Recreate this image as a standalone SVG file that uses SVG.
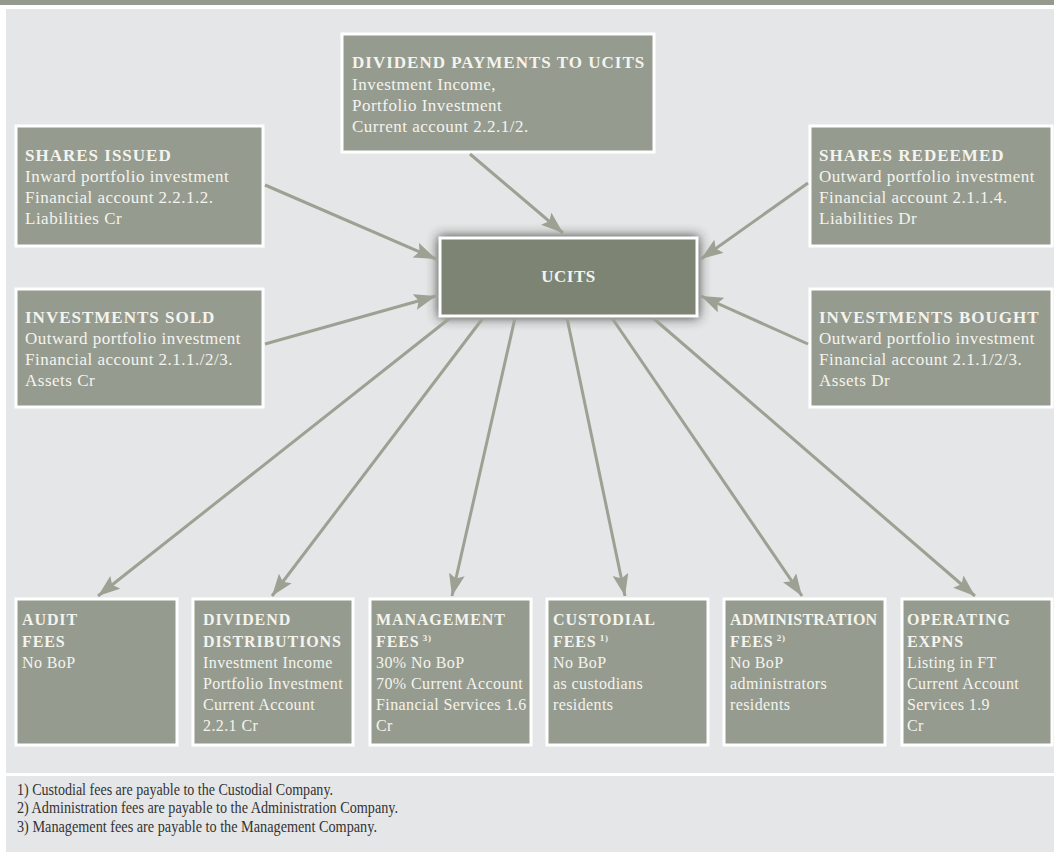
<svg xmlns="http://www.w3.org/2000/svg" width="1054" height="852" viewBox="0 0 1054 852">
  <defs>
    <style>
      .box { fill: #969b8f; stroke: #ffffff; stroke-width: 3; }
      .core { fill: #7d8474; stroke: #ffffff; stroke-width: 3; }
      .t { font-family: "Liberation Serif", "Times New Roman", serif; font-size: 16px; font-weight: bold; fill: #f4f4ee; letter-spacing: 0.9px; }
      .b { font-family: "Liberation Serif", "Times New Roman", serif; font-size: 16px; fill: #f4f4ee; letter-spacing: 0.4px; }
      .tl { font-family: "Liberation Serif", "Times New Roman", serif; font-size: 17px; font-weight: bold; fill: #f4f4ee; letter-spacing: 1px; }
      .bl { font-family: "Liberation Serif", "Times New Roman", serif; font-size: 17px; fill: #f4f4ee; letter-spacing: 0.5px; }
      .sup { font-family: "Liberation Serif", "Times New Roman", serif; font-size: 9px; font-weight: bold; fill: #f4f4ee; }
      .fn { font-family: "Liberation Serif", "Times New Roman", serif; font-size: 16px; fill: #333333; }
      .arr { fill: none; stroke: #9ca193; stroke-width: 3; marker-end: url(#head); }
    </style>
    <marker id="head" markerUnits="userSpaceOnUse" markerWidth="24" markerHeight="18" refX="22" refY="8" orient="auto">
      <path d="M0,0 L22,8 L0,16 L4,8 z" fill="#9ca193"/>
    </marker>
    <filter id="glow" x="-30%" y="-50%" width="160%" height="200%">
      <feGaussianBlur stdDeviation="6"/>
    </filter>
  </defs>

  <!-- page frame -->
  <rect x="0" y="0" width="1054" height="852" fill="#ffffff"/>
  <rect x="0" y="0" width="1054" height="5" fill="#959a8f"/>
  <rect x="6" y="9" width="1048" height="764" fill="#e5e6e8"/>
  <rect x="6" y="776" width="1048" height="76" fill="#e5e6e8"/>

  <!-- shadow behind the central node -->
  <rect x="438" y="236" width="261" height="82" fill="#2a2d28" opacity="0.85" filter="url(#glow)"/>

  <g id="dividend-payments">
    <rect class="box" x="342" y="34" width="312" height="118"/>
    <text class="tl" x="352" y="68">DIVIDEND PAYMENTS TO UCITS</text>
    <text class="bl" x="352" y="90">Investment Income,</text>
    <text class="bl" x="352" y="111">Portfolio Investment</text>
    <text class="bl" x="352" y="132">Current account 2.2.1/2.</text>
  </g>

  <g id="shares-issued">
    <rect class="box" x="16" y="126" width="247" height="120"/>
    <text class="tl" x="25" y="161">SHARES ISSUED</text>
    <text class="bl" x="25" y="182">Inward portfolio investment</text>
    <text class="bl" x="25" y="203">Financial account 2.2.1.2.</text>
    <text class="bl" x="25" y="224">Liabilities Cr</text>
  </g>

  <g id="investments-sold">
    <rect class="box" x="16" y="289" width="247" height="118"/>
    <text class="tl" x="25" y="323">INVESTMENTS SOLD</text>
    <text class="bl" x="25" y="344">Outward portfolio investment</text>
    <text class="bl" x="25" y="365">Financial account 2.1.1./2/3.</text>
    <text class="bl" x="25" y="386">Assets Cr</text>
  </g>

  <g id="shares-redeemed">
    <rect class="box" x="810" y="126" width="242" height="120"/>
    <text class="tl" x="819" y="161">SHARES REDEEMED</text>
    <text class="bl" x="819" y="182">Outward portfolio investment</text>
    <text class="bl" x="819" y="203">Financial account 2.1.1.4.</text>
    <text class="bl" x="819" y="224">Liabilities Dr</text>
  </g>

  <g id="investments-bought">
    <rect class="box" x="810" y="289" width="242" height="118"/>
    <text class="tl" x="819" y="323">INVESTMENTS BOUGHT</text>
    <text class="bl" x="819" y="344">Outward portfolio investment</text>
    <text class="bl" x="819" y="365">Financial account 2.1.1/2/3.</text>
    <text class="bl" x="819" y="386">Assets Dr</text>
  </g>

  <g id="audit-fees">
    <rect class="box" x="16" y="599" width="161" height="146"/>
    <text class="t" x="22" y="625">AUDIT</text>
    <text class="t" x="22" y="647">FEES</text>
    <text class="b" x="22" y="668">No BoP</text>
  </g>

  <g id="dividend-distributions">
    <rect class="box" x="193" y="599" width="160" height="146"/>
    <text class="t" x="203" y="625">DIVIDEND</text>
    <text class="t" x="203" y="647">DISTRIBUTIONS</text>
    <text class="b" x="203" y="668">Investment Income</text>
    <text class="b" x="203" y="689">Portfolio Investment</text>
    <text class="b" x="203" y="710">Current Account</text>
    <text class="b" x="203" y="731">2.2.1 Cr</text>
  </g>

  <g id="management-fees">
    <rect class="box" x="370" y="599" width="161" height="146"/>
    <text class="t" x="376" y="625">MANAGEMENT</text>
    <text class="t" x="376" y="647">FEES<tspan class="sup" dx="3" dy="-6">3)</tspan></text>
    <text class="b" x="376" y="668">30% No BoP</text>
    <text class="b" x="376" y="689">70% Current Account</text>
    <text class="b" x="376" y="710">Financial Services 1.6</text>
    <text class="b" x="376" y="731">Cr</text>
  </g>

  <g id="custodial-fees">
    <rect class="box" x="547" y="599" width="161" height="146"/>
    <text class="t" x="553" y="625">CUSTODIAL</text>
    <text class="t" x="553" y="647">FEES<tspan class="sup" dx="3" dy="-6">1)</tspan></text>
    <text class="b" x="553" y="668">No BoP</text>
    <text class="b" x="553" y="689">as custodians</text>
    <text class="b" x="553" y="710">residents</text>
  </g>

  <g id="administration-fees">
    <rect class="box" x="724" y="599" width="161" height="146"/>
    <text class="t" x="730" y="625" textLength="148" lengthAdjust="spacing">ADMINISTRATION</text>
    <text class="t" x="730" y="647">FEES<tspan class="sup" dx="3" dy="-6">2)</tspan></text>
    <text class="b" x="730" y="668">No BoP</text>
    <text class="b" x="730" y="689">administrators</text>
    <text class="b" x="730" y="710">residents</text>
  </g>

  <g id="operating-expenses">
    <rect class="box" x="902" y="599" width="150" height="146"/>
    <text class="t" x="907" y="625">OPERATING</text>
    <text class="t" x="907" y="647">EXPNS</text>
    <text class="b" x="907" y="668">Listing in FT</text>
    <text class="b" x="907" y="689">Current Account</text>
    <text class="b" x="907" y="710">Services 1.9</text>
    <text class="b" x="907" y="731">Cr</text>
  </g>

  <g id="connectors">
    <!-- into UCITS -->
    <line class="arr" x1="470" y1="154" x2="563" y2="233"/>
    <line class="arr" x1="265" y1="185" x2="436" y2="259"/>
    <line class="arr" x1="265" y1="344" x2="436" y2="296"/>
    <line class="arr" x1="808" y1="183" x2="701" y2="259"/>
    <line class="arr" x1="808" y1="344" x2="701" y2="296"/>
    <!-- out of UCITS -->
    <line class="arr" x1="450" y1="318" x2="98" y2="596"/>
    <line class="arr" x1="483" y1="318" x2="272" y2="596"/>
    <line class="arr" x1="515" y1="318" x2="452" y2="596"/>
    <line class="arr" x1="567" y1="318" x2="625" y2="596"/>
    <line class="arr" x1="612" y1="318" x2="802" y2="596"/>
    <line class="arr" x1="653" y1="318" x2="975" y2="596"/>
  </g>

  <g id="ucits">
    <rect class="core" x="440" y="238" width="257" height="78"/>
    <text class="tl" x="568.5" y="282" text-anchor="middle" style="letter-spacing:0.5px">UCITS</text>
  </g>

  <g id="footnotes">
    <text class="fn" x="17" y="795" textLength="316" lengthAdjust="spacingAndGlyphs">1) Custodial fees are payable to the Custodial Company.</text>
    <text class="fn" x="17" y="813" textLength="381" lengthAdjust="spacingAndGlyphs">2) Administration fees are payable to the Administration Company.</text>
    <text class="fn" x="17" y="832" textLength="360" lengthAdjust="spacingAndGlyphs">3) Management fees are payable to the Management Company.</text>
  </g>
</svg>
